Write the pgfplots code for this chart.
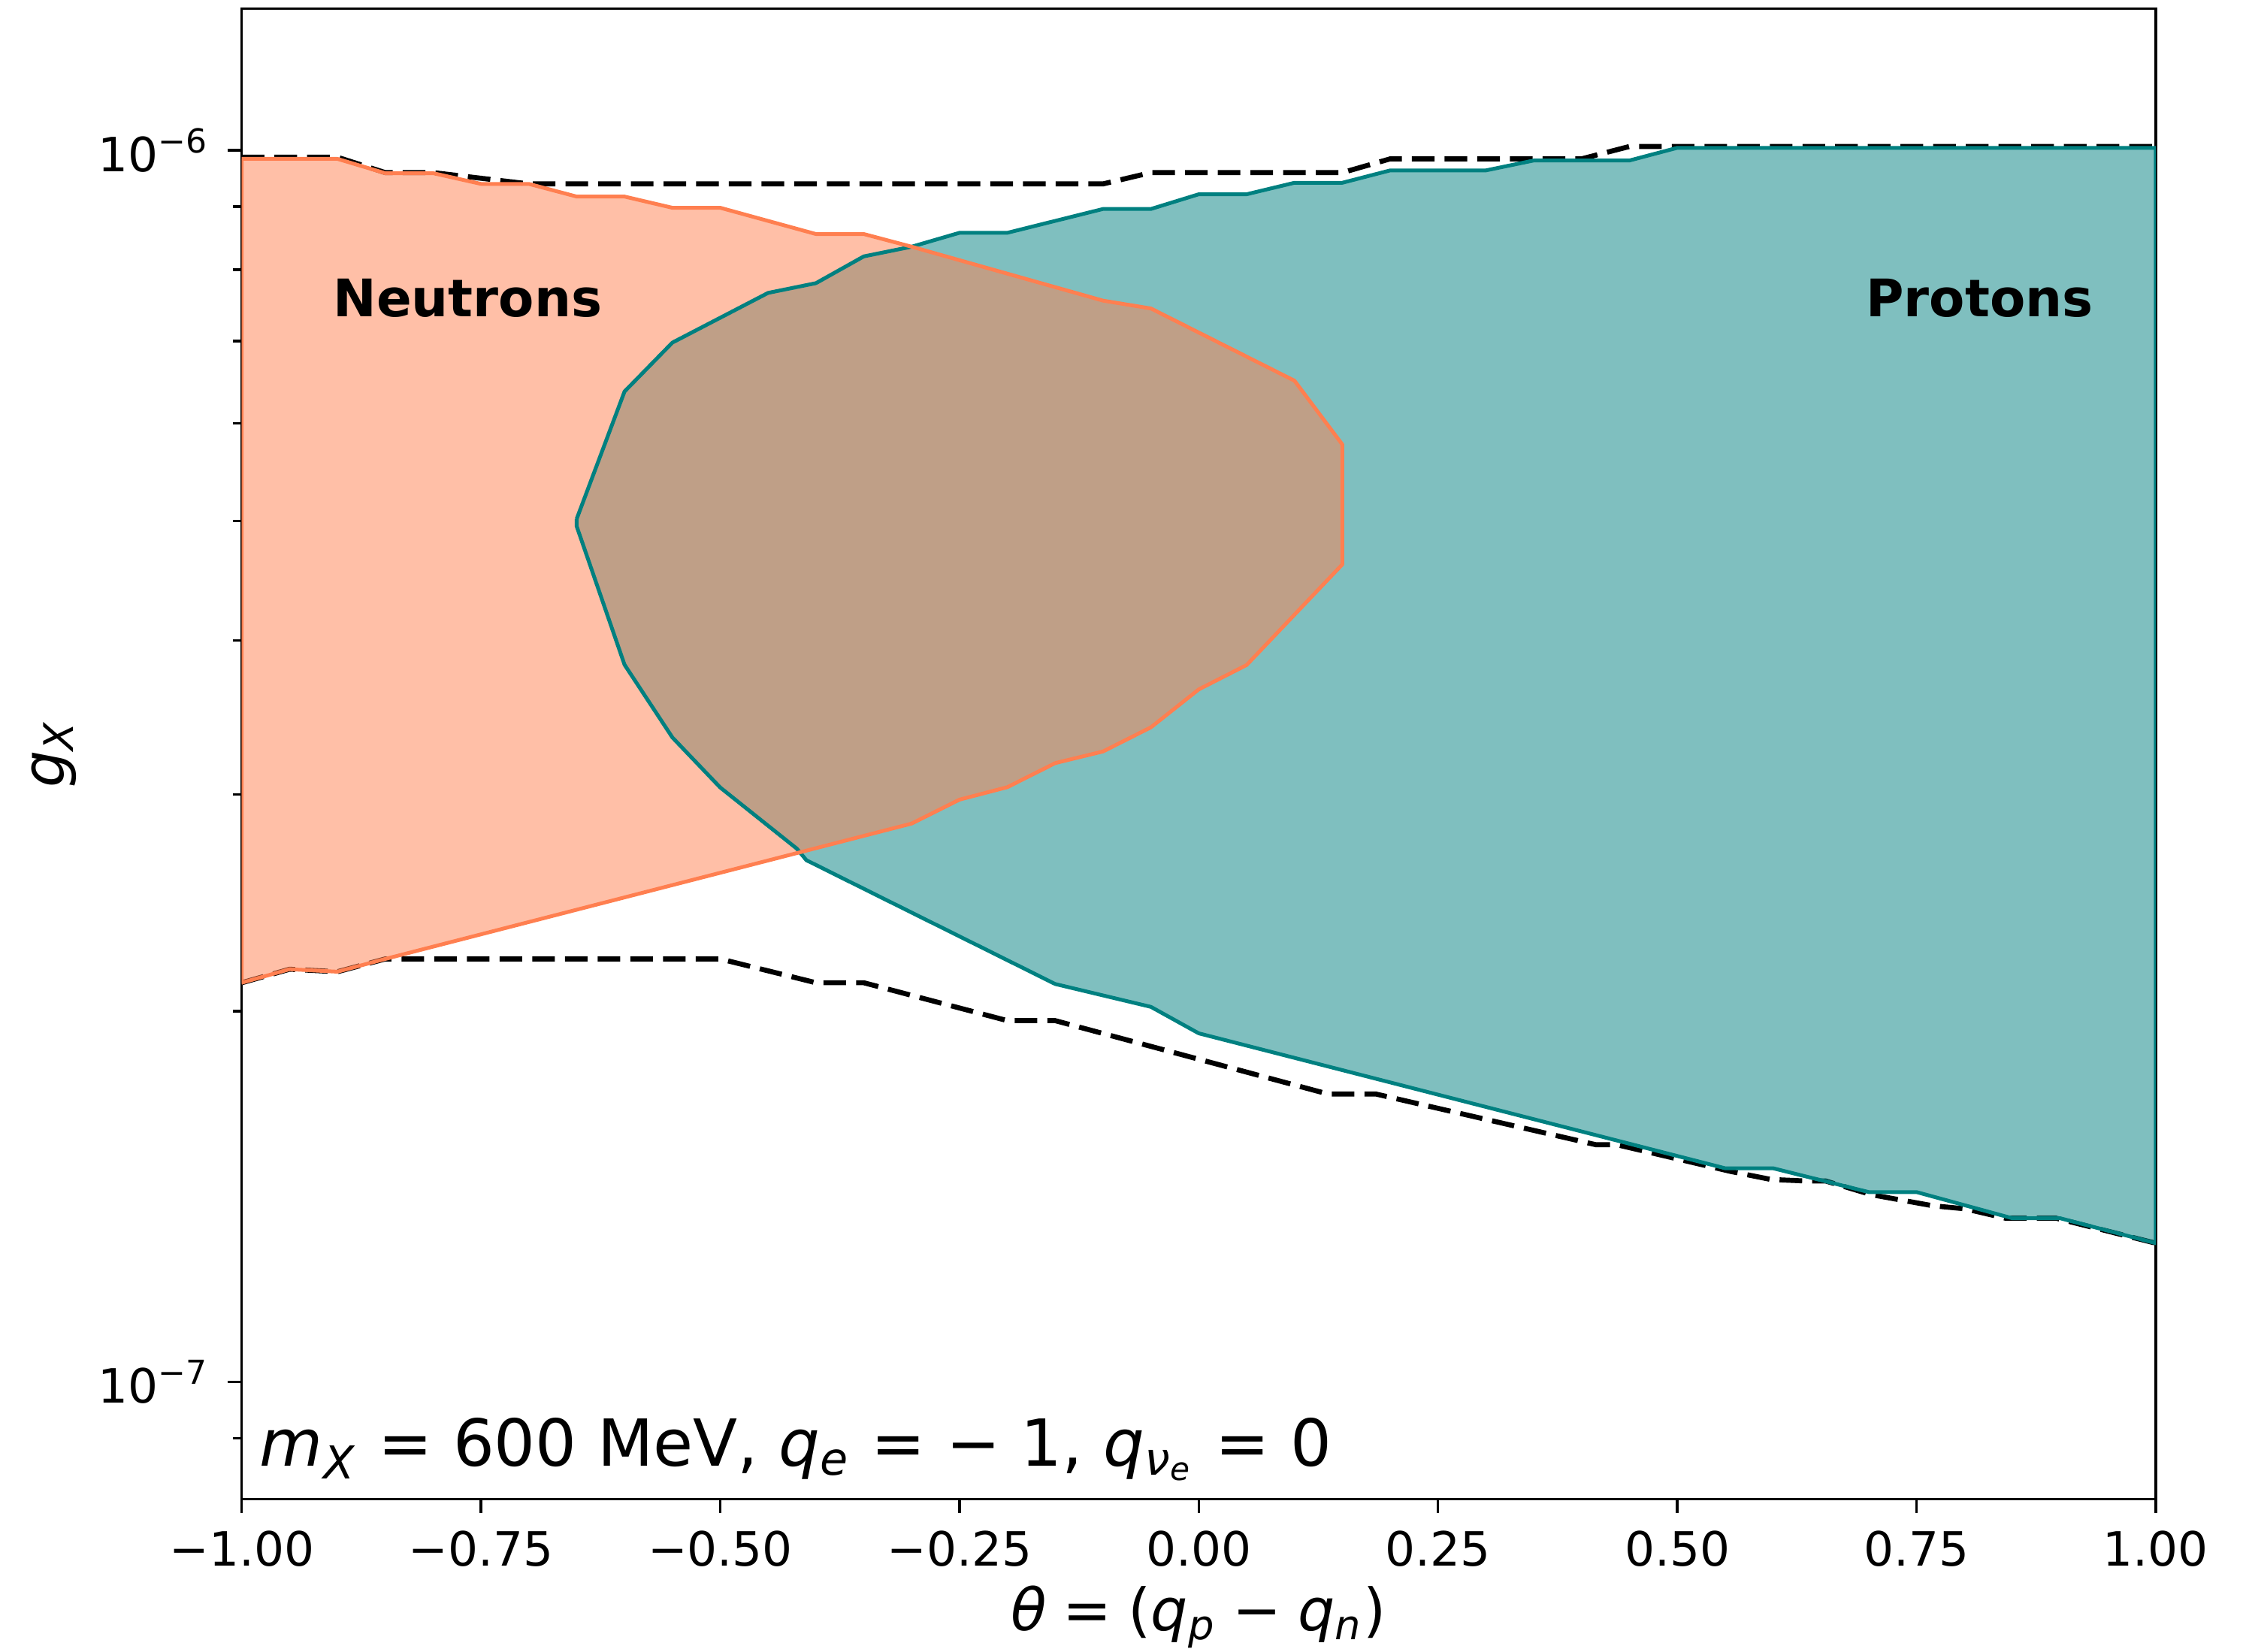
\documentclass[border=0pt]{standalone}
\usepackage{fontspec}
\setmainfont{DejaVu Sans}
\usepackage{pgfplots}
\usepackage{pgfplotstable}
\pgfplotsset{compat=1.18}
\definecolor{tealc}{RGB}{0,128,128}
\definecolor{coralc}{RGB}{255,127,80}

% region boundaries (theta, g_X), closed polygons
\pgfplotstableread{
x y
-0.65 5.02e-7
-0.6 6.37e-7
-0.55 6.98e-7
-0.45 7.66e-7
-0.4 7.80e-7
-0.35 8.20e-7
-0.3 8.35e-7
-0.25 8.57e-7
-0.2 8.57e-7
-0.1 8.96e-7
-0.05 8.96e-7
0 9.21e-7
0.05 9.21e-7
0.1 9.41e-7
0.15 9.41e-7
0.2 9.63e-7
0.3 9.63e-7
0.35 9.81e-7
0.45 9.81e-7
0.5 1.0045e-6
1 1.0045e-6
1 1.296e-7
0.9 1.358e-7
0.85 1.358e-7
0.75 1.426e-7
0.7 1.426e-7
0.6 1.491e-7
0.55 1.491e-7
0 1.919e-7
-0.05 2.016e-7
-0.15 2.104e-7
-0.41 2.652e-7
-0.42 2.71e-7
-0.5 3.038e-7
-0.55 3.336e-7
-0.6 3.822e-7
-0.65 4.95e-7
-0.65 5.02e-7
}\protons

\pgfplotstableread{
x y
-1 9.84e-7
-0.9 9.84e-7
-0.85 9.58e-7
-0.8 9.58e-7
-0.75 9.39e-7
-0.7 9.39e-7
-0.65 9.17e-7
-0.6 9.17e-7
-0.55 8.98e-7
-0.5 8.98e-7
-0.4 8.55e-7
-0.35 8.55e-7
-0.3 8.35e-7
-0.1 7.55e-7
-0.05 7.44e-7
0.1 6.50e-7
0.15 5.77e-7
0.15 4.61e-7
0.05 3.82e-7
0 3.65e-7
-0.05 3.40e-7
-0.1 3.25e-7
-0.15 3.18e-7
-0.2 3.04e-7
-0.25 2.97e-7
-0.3 2.84e-7
-0.85 2.205e-7
-0.9 2.153e-7
-0.95 2.163e-7
-1 2.109e-7
-1 9.84e-7
}\neutrons

\begin{document}
\begin{tikzpicture}
\useasboundingbox (-1.69cm,-1.07cm) rectangle (13.99cm,10.48cm);
\begin{axis}[
  scale only axis, width=13.38cm, height=10.42cm,
  xmin=-1, xmax=1, ymode=log, ymin=8.035e-8, ymax=1.303e-6,
  axis line style={line width=0.5pt},
  tick align=outside, xtick pos=left, ytick pos=left,
  major tick length=0.1cm, minor tick length=0.06cm,
  tick style={black, line width=0.5pt},
  xtick={-1,-0.75,-0.5,-0.25,0,0.25,0.5,0.75,1},
  xticklabels={−1.00,−0.75,−0.50,−0.25,0.00,0.25,0.50,0.75,1.00},
  ytick={1e-7,1e-6},
  yticklabels={10\textsuperscript{−7},10\textsuperscript{−6}},
  minor ytick={8e-8,9e-8,2e-7,3e-7,4e-7,5e-7,6e-7,7e-7,8e-7,9e-7},
  ticklabel style={font=\fontsize{9.4}{11}\selectfont},
  label style={font=\fontsize{11.6}{14}\selectfont},
  xlabel={\textit{θ}\hspace{0.28em}=\hspace{0.28em}(\textit{q}\textsubscript{\textit{p}}\hspace{0.28em}−\hspace{0.28em}\textit{q}\textsubscript{\textit{n}})},
  ylabel={\textit{g}\textsubscript{\textit{X}}},
  xlabel style={at={(axis description cs:0.5,-0.079)}, anchor=center},
  ylabel style={at={(axis description cs:-0.098,0.5)}, anchor=center},
]
% combined boundary
\addplot[black, line width=1pt, dash pattern=on 4.5pt off 2pt] coordinates {
(-1,9.87e-7) (-0.9,9.87e-7) (-0.85,9.59e-7) (-0.8,9.59e-7) (-0.7,9.39e-7)
(-0.1,9.39e-7) (-0.05,9.59e-7) (0.15,9.59e-7) (0.2,9.84e-7) (0.4,9.84e-7)
(0.45,1.007e-6) (1,1.007e-6)};
\addplot[black, line width=1pt, dash pattern=on 4.5pt off 2pt] coordinates {
(-1,2.109e-7) (-0.95,2.163e-7) (-0.9,2.153e-7) (-0.85,2.205e-7) (-0.5,2.205e-7)
(-0.4,2.109e-7) (-0.35,2.109e-7) (-0.2,1.965e-7) (-0.15,1.965e-7) (0.135,1.713e-7)
(0.185,1.713e-7) (0.415,1.558e-7) (0.437,1.558e-7) (0.556,1.482e-7) (0.598,1.460e-7)
(0.634,1.456e-7) (0.655,1.456e-7) (0.703,1.419e-7) (0.767,1.390e-7) (0.801,1.382e-7)
(0.843,1.358e-7) (0.896,1.358e-7) (1,1.296e-7)};
% fills
\addplot[draw=none, fill=tealc, fill opacity=0.5] table {\protons};
\addplot[draw=none, fill=coralc, fill opacity=0.5] table {\neutrons};
% edges on top
\addplot[tealc, line width=0.75pt, line join=round] table {\protons};
\addplot[coralc, line width=0.75pt, line join=round] table {\neutrons};

\node[font=\fontsize{10.3}{12}\selectfont\bfseries] at (axis cs:-0.764,7.59e-7) {Neutrons};
\node[font=\fontsize{10.3}{12}\selectfont\bfseries] at (axis cs:0.816,7.59e-7) {Protons};
\node[font=\fontsize{12.9}{15}\selectfont, anchor=base west, inner sep=0pt] at (axis cs:-0.982,8.54e-8)
  {\textit{m}\textsubscript{\textit{X}} = 600 MeV, \textit{q}\textsubscript{\textit{e}} = − 1, \textit{q}\textsubscript{\textit{ν}\textsubscript{\textit{e}}} = 0};
\end{axis}
\end{tikzpicture}
\end{document}
